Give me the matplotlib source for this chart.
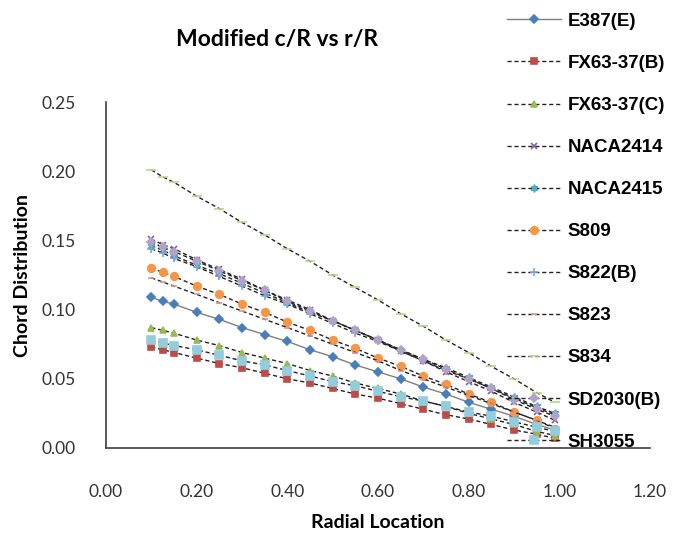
import numpy as np
import matplotlib.pyplot as plt

# radial stations r/R
r_R = [0.1, 0.125, 0.15, 0.2, 0.25, 0.3, 0.35, 0.4, 0.45, 0.5,
       0.55, 0.6, 0.65, 0.7, 0.75, 0.8, 0.85, 0.9, 0.95, 0.99]

e387 = [0.109, 0.106, 0.104, 0.098, 0.093, 0.087, 0.082, 0.077, 0.071, 0.066,
        0.060, 0.055, 0.050, 0.044, 0.039, 0.033, 0.028, 0.023, 0.017, 0.013]
fx63_b = [0.073, 0.071, 0.069, 0.065, 0.061, 0.058, 0.054, 0.050, 0.047, 0.043,
          0.039, 0.036, 0.032, 0.028, 0.024, 0.021, 0.017, 0.013, 0.010, 0.007]
fx63_c = [0.087, 0.085, 0.083, 0.078, 0.074, 0.069, 0.065, 0.061, 0.056, 0.052,
          0.047, 0.043, 0.039, 0.034, 0.030, 0.025, 0.021, 0.017, 0.012, 0.009]
naca2414 = [0.151, 0.147, 0.144, 0.136, 0.129, 0.122, 0.114, 0.107, 0.100, 0.092,
            0.085, 0.078, 0.070, 0.063, 0.055, 0.048, 0.041, 0.033, 0.026, 0.020]
naca2415 = [0.146, 0.143, 0.139, 0.132, 0.126, 0.119, 0.112, 0.105, 0.098, 0.092,
            0.085, 0.078, 0.071, 0.064, 0.058, 0.051, 0.044, 0.037, 0.030, 0.025]
s809 = [0.130, 0.127, 0.124, 0.117, 0.111, 0.104, 0.098, 0.091, 0.085, 0.078,
        0.072, 0.065, 0.059, 0.052, 0.046, 0.039, 0.033, 0.026, 0.020, 0.014]
s822_b = [0.144, 0.141, 0.137, 0.131, 0.124, 0.117, 0.110, 0.104, 0.097, 0.090,
          0.083, 0.077, 0.070, 0.063, 0.056, 0.050, 0.043, 0.036, 0.029, 0.024]
s823 = [0.123, 0.120, 0.117, 0.111, 0.105, 0.099, 0.093, 0.087, 0.081, 0.075,
        0.069, 0.063, 0.056, 0.050, 0.044, 0.038, 0.032, 0.026, 0.020, 0.015]
s834 = [0.201, 0.196, 0.192, 0.182, 0.173, 0.163, 0.154, 0.144, 0.135, 0.125,
        0.116, 0.107, 0.097, 0.088, 0.078, 0.069, 0.059, 0.050, 0.040, 0.033]
sd2030_b = [0.149, 0.145, 0.142, 0.135, 0.128, 0.121, 0.114, 0.106, 0.099, 0.092,
            0.085, 0.078, 0.071, 0.064, 0.057, 0.050, 0.043, 0.035, 0.028, 0.023]
sh3055 = [0.078, 0.076, 0.074, 0.071, 0.067, 0.063, 0.060, 0.056, 0.052, 0.048,
          0.045, 0.041, 0.037, 0.034, 0.030, 0.026, 0.023, 0.019, 0.015, 0.012]

labels = ['E387(E)', 'FX63-37(B)', 'FX63-37(C)', 'NACA2414', 'NACA2415', 'S809',
          'S822(B)', 'S823', 'S834', 'SD2030(B)', 'SH3055']
series = [e387, fx63_b, fx63_c, naca2414, naca2415, s809,
          s822_b, s823, s834, sd2030_b, sh3055]

x_ticks = [0.0, 0.2, 0.4, 0.6, 0.8, 1.0, 1.2]
y_ticks = [0.0, 0.05, 0.10, 0.15, 0.20, 0.25]

markers = ['D', 's', '^', 'x', (6, 2, 0), 'o', '+', '_', '_', 'D', 's']
colors = ['#4A7EBB', '#BE4B48', '#98B954', '#8064A2', '#4BACC6', '#F79646',
          '#7EA6D8', '#D99694', '#B9D58A', '#B3A2C7', '#93CDDD']
msizes = [4, 5, 5, 5, 5.5, 5.5, 5.5, 4.5, 6.5, 4, 5.5]

fig = plt.figure(figsize=(6.86, 5.33), dpi=100)
ax = fig.add_axes([0.1545, 0.1595, 0.793, 0.649])

for i in range(len(series)):
    if i == 0:
        ls, lc = '-', '#7f7f7f'
    else:
        ls, lc = (0, (3, 2)), '#222222'
    ax.plot(r_R, series[i], linestyle=ls, color=lc, linewidth=1,
            marker=markers[i], markersize=msizes[i], markerfacecolor=colors[i],
            markeredgecolor=colors[i], markeredgewidth=1.2, label=labels[i])

ax.set_xlim(0, 1.2)
ax.set_ylim(0, 0.25)
ax.set_xticks(x_ticks)
ax.set_yticks(y_ticks)
ax.set_xticklabels(['%.2f' % v for v in x_ticks])
ax.set_yticklabels(['%.2f' % v for v in y_ticks])
ax.tick_params(length=0, labelsize=12.5, colors='#333333')
ax.tick_params(axis='y', pad=22)
ax.tick_params(axis='x', pad=26)
for lab in ax.get_xticklabels() + ax.get_yticklabels():
    lab.set_fontfamily('Lato')
for s in ['top', 'right']:
    ax.spines[s].set_visible(False)
for s in ['left', 'bottom']:
    ax.spines[s].set_color('#404040')
    ax.spines[s].set_linewidth(1.2)

ax.set_xlabel('Radial Location', fontsize=14, fontweight='bold', family='Lato', labelpad=10)
ax.set_ylabel('Chord Distribution', fontsize=14, fontweight='bold', family='Lato', labelpad=7)
fig.text(0.404, 0.925, 'Modified c/R vs r/R', fontsize=16.5, fontweight='bold',
         family='Lato', ha='center', va='center')

leg = fig.legend(loc='upper left', bbox_to_anchor=(0.728, 0.99), frameon=False,
                 prop={'family': 'Liberation Sans', 'weight': 'bold', 'size': 13.5},
                 handlelength=2.9, handletextpad=0.35, labelspacing=1.33,
                 borderaxespad=0)

fig.savefig('out.png', dpi=100)
